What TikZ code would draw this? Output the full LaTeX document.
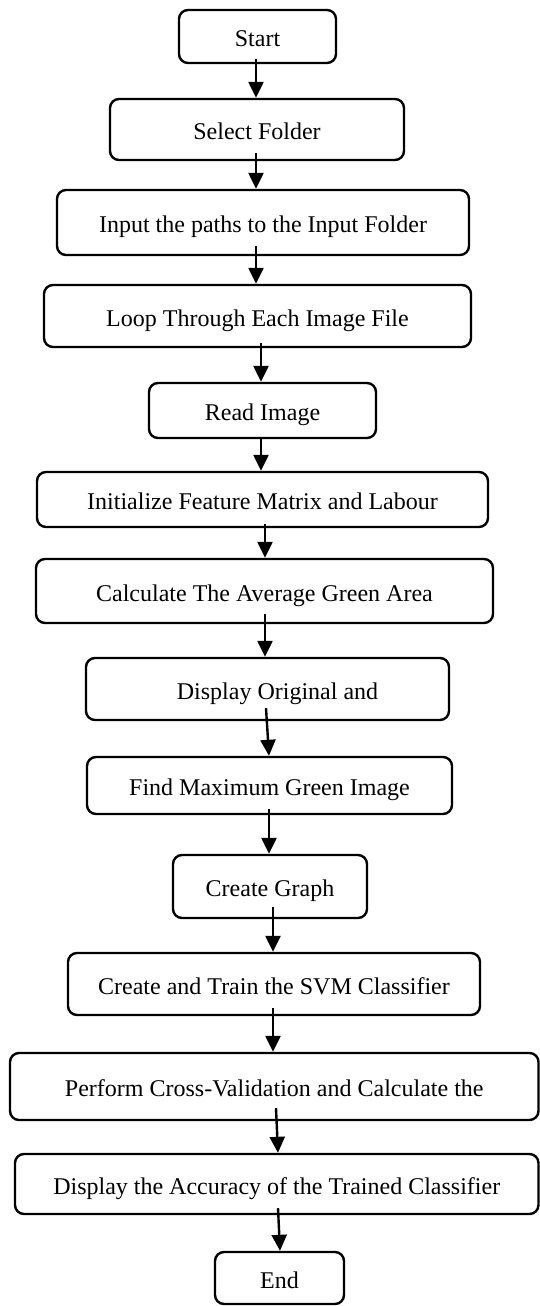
\documentclass[tikz,border=0pt]{standalone}
\usepackage{fontspec}
\setmainfont{Liberation Serif}
\usetikzlibrary{arrows.meta}
\begin{document}
\begin{tikzpicture}[x=1pt,y=-1pt,
 stepbox/.style={draw=black, line width=2.4pt, rounded corners=9pt, inner sep=0pt,
   text height=20pt, text depth=0pt, font=\fontsize{24}{28}\selectfont},
 arr/.style={line width=2.4pt, -{Triangle[width=15pt,length=16pt]}}]
\fill[white] (0,0) rectangle (540,1306);
\useasboundingbox (0,0) rectangle (540,1306);
\node[stepbox, minimum width=157pt, minimum height=53pt] (n1) at (257.5,36.5) {Start};
\node[stepbox, minimum width=294pt, minimum height=61pt] (n2) at (257,129.5) {Select Folder};
\node[stepbox, minimum width=412pt, minimum height=65pt] (n3) at (263,222.5) {Input the paths to the Input Folder};
\node[stepbox, minimum width=427pt, minimum height=62pt] (n4) at (257.5,316) {Loop Through Each Image File};
\node[stepbox, minimum width=227pt, minimum height=55pt] (n5) at (262.5,410.5) {Read Image};
\node[stepbox, minimum width=451pt, minimum height=55pt] (n6) at (262.5,499.5) {Initialize Feature Matrix and Labour};
\node[stepbox, minimum width=457pt, minimum height=64pt] (n7) at (264.5,591) {Calculate The Average Green Area};
\node[stepbox, minimum width=363pt, minimum height=62pt] (n8) at (267.5,689) {\hspace*{20pt}Display Original and};
\node[stepbox, minimum width=365pt, minimum height=57pt] (n9) at (269.5,785.5) {Find Maximum Green Image};
\node[stepbox, minimum width=194pt, minimum height=63pt] (n10) at (270,886.5) {Create Graph};
\node[stepbox, minimum width=412pt, minimum height=62pt] (n11) at (274,984) {Create and Train the SVM Classifier};
\node[stepbox, minimum width=528.5pt, minimum height=67pt] (n12) at (274.25,1086.5) {Perform Cross-Validation and Calculate the};
\node[stepbox, minimum width=523.5pt, minimum height=60pt] (n13) at (276.75,1184) {Display the Accuracy of the Trained Classifier};
\node[stepbox, minimum width=129pt, minimum height=52pt] (n14) at (279.5,1278) {End};
\draw[arr] ([xshift=-1.5pt,yshift=5pt]n1.south) -- ([xshift=-1pt]n2.north);
\draw[arr] ([xshift=-1pt,yshift=8pt]n2.south) -- ([xshift=-7pt]n3.north);
\draw[arr] ([xshift=-7pt,yshift=10pt]n3.south) -- ([xshift=-1.5pt]n4.north);
\draw[arr] ([xshift=3.5pt,yshift=5pt]n4.south) -- ([xshift=-1.5pt]n5.north);
\draw[arr] ([xshift=-1.5pt,yshift=1pt]n5.south) -- ([xshift=-1.5pt]n6.north);
\draw[arr] ([xshift=2.5pt,yshift=4pt]n6.south) -- ([xshift=0.5pt]n7.north);
\draw[arr] ([xshift=0.5pt,yshift=10pt]n7.south) -- ([xshift=-2.5pt]n8.north);
\draw[arr] ([xshift=-1.5pt,yshift=13pt]n8.south) -- ([xshift=-0.5pt]n9.north);
\draw[arr] ([xshift=-0.5pt,yshift=6pt]n9.south) -- ([xshift=-1pt]n10.north);
\draw[arr] ([xshift=3pt,yshift=12pt]n10.south) -- ([xshift=-1pt]n11.north);
\draw[arr] ([xshift=-1pt,yshift=8pt]n11.south) -- ([xshift=-1.25pt]n12.north);
\draw[arr] ([xshift=1.75pt,yshift=13pt]n12.south) -- ([xshift=1.25pt]n13.north);
\draw[arr] ([xshift=1.25pt,yshift=7pt]n13.south) -- ([xshift=0.5pt]n14.north);
\end{tikzpicture}
\end{document}
